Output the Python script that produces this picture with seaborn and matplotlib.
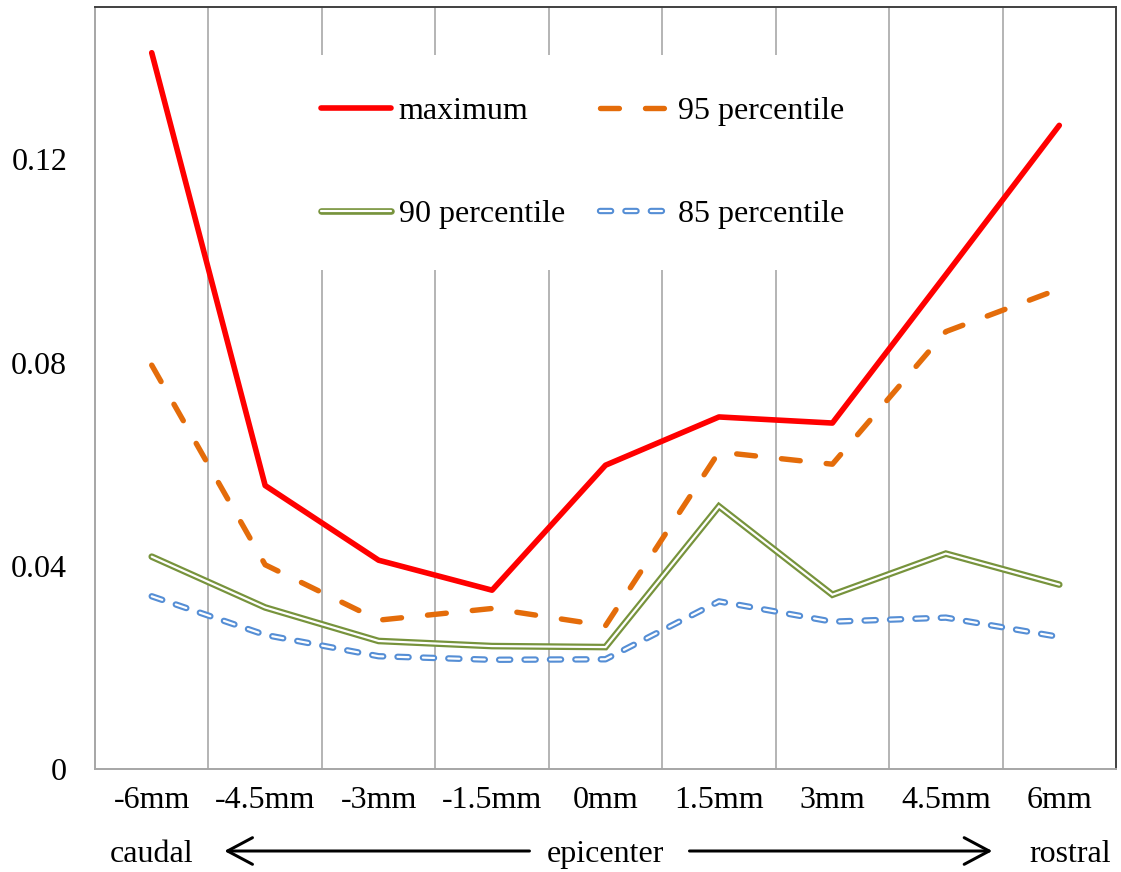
import numpy as np
import pandas as pd
import seaborn as sns
import matplotlib
matplotlib.use("Agg")
import matplotlib.pyplot as plt
import matplotlib.patheffects as pe
from matplotlib.transforms import blended_transform_factory

# Distance from the lesion epicenter
positions = ["-6mm", "-4.5mm", "-3mm", "-1.5mm", "0mm", "1.5mm", "3mm", "4.5mm", "6mm"]

# Series values per position
maximum = [0.1410, 0.0558, 0.0411, 0.0352, 0.0598, 0.0693, 0.0681, 0.0973, 0.1267]
p95 = [0.0795, 0.0402, 0.0293, 0.0316, 0.0282, 0.0624, 0.0600, 0.0861, 0.0945]
p90 = [0.0418, 0.0318, 0.0252, 0.0242, 0.0240, 0.0517, 0.0343, 0.0424, 0.0363]
p85 = [0.0340, 0.0264, 0.0222, 0.0215, 0.0216, 0.0330, 0.0290, 0.0298, 0.0260]

y_ticks = [0, 0.04, 0.08, 0.12]
y_tick_labels = ["0", "0.04", "0.08", "0.12"]

sns.set_theme(style="white")
plt.rcParams["font.family"] = ["Liberation Serif", "DejaVu Serif"]
plt.rcParams["lines.scale_dashes"] = False
plt.rcParams["text.color"] = "black"
plt.rcParams["xtick.color"] = "black"
plt.rcParams["ytick.color"] = "black"

W, H = 1121, 872
PX = 0.72  # points per pixel at 100 dpi
FS = 23

fig = plt.figure(figsize=(W / 100, H / 100), dpi=100)
ax = fig.add_axes([95 / W, 1 - 769 / H, (1116 - 95) / W, (769 - 7) / H])

idx = np.arange(len(positions))
df = pd.DataFrame({"pos": idx, "maximum": maximum, "p95": p95, "p90": p90, "p85": p85})

sns.lineplot(data=df, x="pos", y="maximum", ax=ax, errorbar=None,
             color="#FF0000", lw=5.6 * PX, label="maximum",
             solid_capstyle="round", solid_joinstyle="round", zorder=4)
sns.lineplot(data=df, x="pos", y="p95", ax=ax, errorbar=None,
             color="#E46C0A", lw=5.4 * PX, label="95 percentile",
             linestyle=(0, (13.6, 18.8)), dash_capstyle="round",
             dash_joinstyle="round", zorder=3)
sns.lineplot(data=df, x="pos", y="p90", ax=ax, errorbar=None,
             color="white", lw=2.2 * PX, label="90 percentile",
             solid_capstyle="round", solid_joinstyle="miter",
             path_effects=[pe.Stroke(linewidth=6.6 * PX, foreground="#77933C"), pe.Normal()],
             zorder=3)
sns.lineplot(data=df, x="pos", y="p85", ax=ax, errorbar=None,
             color="white", lw=2.2 * PX, label="85 percentile",
             linestyle=(0, (8.0, 10.3)), dash_capstyle="round",
             dash_joinstyle="round",
             path_effects=[pe.Stroke(linewidth=6.4 * PX, foreground="#558ED5"), pe.Normal()],
             zorder=3)

ax.set_xlim(-0.5, len(positions) - 0.5)
ax.set_ylim(0, 0.15)
ax.set_xlabel("")
ax.set_ylabel("")

ax.set_xticks(idx)
ax.set_xticklabels(positions, fontsize=FS)
ax.set_yticks(y_ticks)
ax.set_yticklabels(y_tick_labels, fontsize=FS)
ax.set_xticks(idx[:-1] + 0.5, minor=True)
ax.tick_params(axis="x", which="major", length=0, pad=12, labelcolor="black")
ax.tick_params(axis="y", which="major", length=0, pad=20, labelcolor="black")
ax.tick_params(which="minor", length=0)
ax.grid(False)
ax.grid(which="minor", axis="x", color="#a0a0a0", lw=1.1)

for side in ("left", "bottom"):
    ax.spines[side].set_color("#a6a6a6")
    ax.spines[side].set_linewidth(1.4)
for side in ("top", "right"):
    ax.spines[side].set_color("#404040")
    ax.spines[side].set_linewidth(1.4)

handles, labels = ax.get_legend_handles_labels()
order = [labels.index(l) for l in ["maximum", "90 percentile", "95 percentile", "85 percentile"]]
leg = ax.legend([handles[i] for i in order], [labels[i] for i in order],
                loc="upper left", bbox_to_anchor=(279 / W, 1 - 55 / H),
                bbox_transform=fig.transFigure, ncol=2, fontsize=FS,
                frameon=True, fancybox=False, framealpha=1, facecolor="white",
                edgecolor="none", borderpad=1.3, borderaxespad=0,
                handlelength=2.2, handletextpad=0.25, columnspacing=1.1,
                labelspacing=2.3)
leg.set_zorder(5)
for t in leg.get_texts():
    t.set_color("black")

# Direction annotation below the tick labels
trans = blended_transform_factory(ax.transData, fig.transFigure)
base_y = 1 - 862 / H
arrow_y = 1 - 851 / H
ax.text(0, base_y, "caudal", transform=trans, ha="center", va="baseline", fontsize=FS, color="black")
ax.text(4, base_y, "epicenter", transform=trans, ha="center", va="baseline", fontsize=FS, color="black")
ax.text(8.1, base_y, "rostral", transform=trans, ha="center", va="baseline", fontsize=FS, color="black")
arrow_props = dict(arrowstyle="->,head_length=1.5,head_width=0.8", lw=3 * PX,
                   color="black", shrinkA=0, shrinkB=0)
ax.annotate("", xy=(0.64, arrow_y), xytext=(3.33, arrow_y), xycoords=trans,
            textcoords=trans, arrowprops=arrow_props, annotation_clip=False)
ax.annotate("", xy=(7.41, arrow_y), xytext=(4.74, arrow_y), xycoords=trans,
            textcoords=trans, arrowprops=arrow_props, annotation_clip=False)

fig.savefig("out.png", dpi=100)
